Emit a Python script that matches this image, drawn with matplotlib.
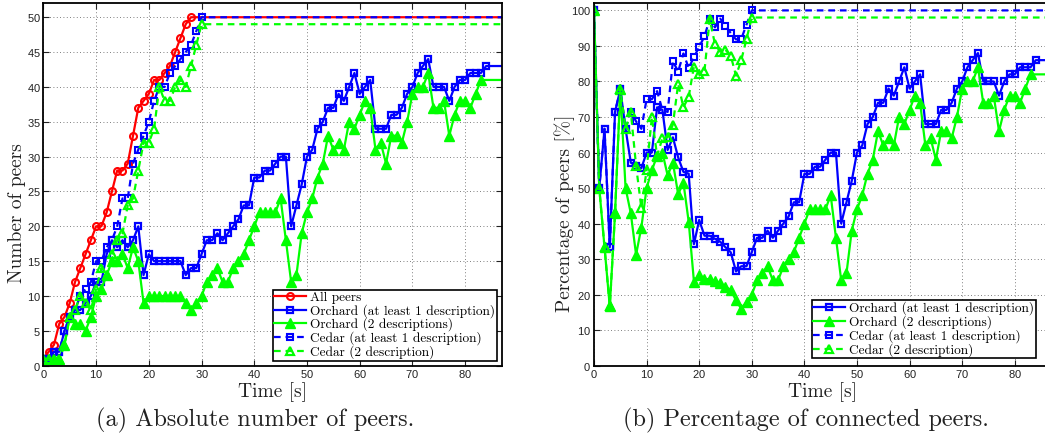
import numpy as np
import matplotlib
matplotlib.use("Agg")
import matplotlib.pyplot as plt

# number of peers per second
all_peers = [1, 2, 3, 6, 7, 9, 12, 14, 16, 18, 20, 20, 22, 25, 28, 28, 29, 33, 37, 38,
             39, 41, 41, 42, 43, 45, 47, 49, 50]
orchard_1 = [1, 1, 2, 2, 5, 7, 8, 8, 9, 10, 12, 12, 16, 18, 17, 18, 17, 18, 20, 13,
             16, 15, 15, 15, 15, 15, 15, 13, 14, 14, 16, 18, 18, 19, 18, 19, 20, 21, 23, 23,
             27, 27, 28, 28, 29, 30, 30, 20, 23, 26, 30, 31, 34, 35, 37, 37, 39, 38, 40, 42,
             39, 40, 41, 34, 34, 34, 36, 36, 37, 39, 40, 42, 43, 44, 40, 40, 40, 38, 40, 41,
             41, 42, 42, 42, 43]
orchard_2 = [1, 1, 1, 1, 3, 7, 6, 6, 5, 7, 10, 11, 13, 15, 15, 16, 14, 17, 15, 9,
             10, 10, 10, 10, 10, 10, 10, 9, 8, 9, 10, 12, 13, 14, 12, 12, 14, 15, 16, 18,
             20, 22, 22, 22, 22, 24, 18, 12, 13, 19, 22, 24, 27, 29, 33, 31, 32, 31, 35, 34,
             36, 38, 37, 31, 32, 29, 33, 33, 32, 35, 39, 40, 40, 42, 37, 37, 38, 33, 36, 38,
             38, 37, 39, 41]
cedar_1 = [1, 1, 2, 2, 5, 7, 8, 10, 11, 12, 15, 15, 17, 18, 20, 24, 24, 29, 31, 33,
           35, 38, 40, 40, 42, 43, 44, 45, 46, 48, 50]
cedar_2 = [1, 1, 1, 1, 3, 7, 8, 10, 9, 8, 11, 14, 13, 16, 18, 19, 23, 24, 28, 32,
           32, 34, 40, 38, 38, 40, 41, 40, 43, 46, 49]

labels = ["All peers", "Orchard (at least 1 description)", "Orchard (2 descriptions)",
          "Cedar (at least 1 description)", "Cedar (2 description)"]
t_max = 87

serif = ["cmr10", "DejaVu Serif"]
plt.rcParams["font.family"] = ["Liberation Sans", "DejaVu Sans"]
plt.rcParams["axes.formatter.use_mathtext"] = True

RED, BLUE, GREEN = "#ff0000", "#0000ff", "#00ff00"
styles = [
    dict(color=RED, ls="-", marker="o", ms=5, mfc="none", mew=1.5),
    dict(color=BLUE, ls="-", marker="s", ms=5, mfc="none", mew=1.6),
    dict(color=GREEN, ls="-", marker="^", ms=7, mfc=GREEN, mew=1.0),
    dict(color=BLUE, ls=(0, (3, 2.2)), marker="s", ms=4, mfc="none", mew=1.5),
    dict(color=GREEN, ls=(0, (3, 2.2)), marker="^", ms=6, mfc="none", mew=1.6),
]


def extend(vals):
    # series stay flat after their last sample up to the edge of the plot
    x = list(range(len(vals))) + [t_max]
    y = list(vals) + [vals[-1]]
    return np.array(x), np.array(y, dtype=float)


def total_at(x):
    a = np.array(all_peers, dtype=float)
    return np.array([a[min(int(i), len(a) - 1)] for i in x])


fig = plt.figure(figsize=(10.45, 4.36), dpi=100)
W, H = 1045.0, 436.0
ax1 = fig.add_axes([43.4 / W, 1 - 365.7 / H, 458.6 / W, 362.4 / H])
ax2 = fig.add_axes([594 / W, 1 - 365.7 / H, 457.6 / W, 362.4 / H])

series = [all_peers, orchard_1, orchard_2, cedar_1, cedar_2]

for s, st, lab in zip(series, styles, labels):
    x, y = extend(s)
    ax1.plot(x, y, lw=1.6, markevery=list(range(len(s))), label=lab, **st)

for s, st, lab in list(zip(series, styles, labels))[1:]:
    x, y = extend(s)
    pct = 100.0 * y / total_at(x)
    ax2.plot(x, pct, lw=1.6, markevery=list(range(len(s))), label=lab, **st)

for ax, top, step in [(ax1, 52, 5), (ax2, 102, 10)]:
    ax.set_xlim(0, t_max)
    ax.set_ylim(0, top)
    ax.set_xticks(np.arange(0, 81, 10))
    ax.set_yticks(np.arange(0, top, step))
    ax.grid(True, ls=(0, (1, 3)), color="#555555", lw=0.6)
    ax.tick_params(direction="in", length=4, width=0.8, labelsize=8,
                   top=True, right=True, pad=2, colors="#222222")
    for sp in ax.spines.values():
        sp.set_linewidth(1.3)
    ax.set_xlabel("Time [s]", family=serif, fontsize=14, color="#222222", labelpad=1)

ax1.set_ylabel("Number of peers", family=serif, fontsize=14, color="#222222")
ax2.set_ylabel("Percentage of peers [%]", family=serif, fontsize=14, color="#222222")
ax1.yaxis.set_label_coords(-0.038, 0.42)
ax2.yaxis.set_label_coords(-0.041, 0.42)

leg_kw = dict(prop={"family": serif, "size": 9.6}, frameon=True, fancybox=False,
              edgecolor="black", framealpha=1, borderpad=0.12, labelspacing=0.0,
              handlelength=2.4, handletextpad=0.3, borderaxespad=0)
l1 = ax1.legend(loc="lower right", bbox_to_anchor=(0.989, 0.014), **leg_kw)
l2 = ax2.legend(loc="upper left", bbox_to_anchor=((811.7 - 594) / 457.6, (365.7 - 300) / 362.4), **leg_kw)
for lg in (l1, l2):
    lg.get_frame().set_linewidth(1.2)

fig.text(255 / W, 1 - 420 / H, "(a) Absolute number of peers.", family=serif,
         fontsize=17.5, ha="center", va="center", color="#222222")
fig.text(806 / W, 1 - 420 / H, "(b) Percentage of connected peers.", family=serif,
         fontsize=17.5, ha="center", va="center", color="#222222")

fig.savefig("out.png", dpi=100)
